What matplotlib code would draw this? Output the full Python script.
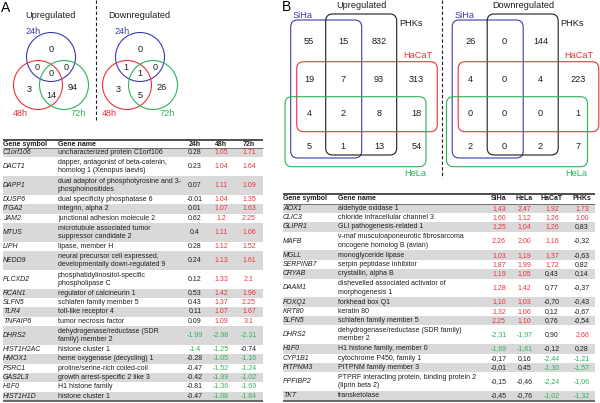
import matplotlib.pyplot as plt
from matplotlib.patches import Circle, FancyBboxPatch, Rectangle

plt.rcParams['font.family'] = ['Liberation Sans', 'DejaVu Sans']

BLUE = '#3b3ba8'
RED = '#f0303c'
GREEN = '#2db35a'
GREY = '#d9d9d9'
INK = '#1e1e1e'

# panel A venn: regions 24h only, 24&48, 24&72, all three, 48h only, 48&72, 72h only
sets_a = ['24h', '48h', '72h']
venn_a_up = [0, 0, 0, 0, 3, 14, 94]
venn_a_down = [0, 1, 0, 1, 3, 5, 26]

# panel B venn: rows = (top, HaCaT, HaCaT&HeLa, HeLa), cols = (SiHa, SiHa&PHKs, PHKs, none)
sets_b = ['SiHa', 'PHKs', 'HaCaT', 'HeLa']
venn_b_up = [[55, 15, 832, None],
             [19, 7, 93, 313],
             [4, 2, 8, 18],
             [5, 1, 13, 54]]
venn_b_down = [[26, 0, 144, None],
               [4, 0, 4, 223],
               [0, 0, 0, 1],
               [2, 0, 2, 7]]

# table A
cols_a = ['24h', '48h', '72h']
genes_a = ['C1orf106', 'DACT1', 'DAPP1', 'DUSP6', 'ITGA2', 'JAM2', 'MTUS', 'LIPH',
           'NEDD9', 'PLCXD2', 'RCAN1', 'SLFN5', 'TLR4', 'TNFAIP6', 'DHRS2',
           'HIST1H2AC', 'HMOX1', 'PSRC1', 'GAS2L3', 'H1F0', 'HIST1H1D']
names_a = ['uncharacterized protein C1orf106',
           'dapper, antagonist of beta-catenin,\nhomolog 1 (Xenopus laevis)',
           'dual adaptor of phosphotyrosine and 3-\nphosphoinositides',
           'dual specificity phosphatase 6',
           'integrin, alpha 2',
           'junctional adhesion molecule 2',
           'microtubule associated tumor\nsuppressor candidate 2',
           'lipase, member H',
           'neural precursor cell expressed,\ndevelopmentally down-regulated 9',
           'phosphatidylinositol-specific\nphospholipase C',
           'regulator of calcineurin 1',
           'schlafen family member 5',
           'toll-like receptor 4',
           'tumor necrosis factor',
           'dehydrogenase/reductase (SDR\nfamily) member 2',
           'histone cluster 1',
           'heme oxygenase (decycling) 1',
           'proline/serine-rich coiled-coil',
           'growth arrest-specific 2 like 3',
           'H1 histone family',
           'histone cluster 1']
a_24h = ['0.28', '0.23', '0.07', '-0.01', '0.01', '0.62', '0.4', '0.28', '0.24', '0.12',
         '0.53', '0.43', '0.11', '0.09', '-1.99', '-1.4', '-0.28', '-0.47', '-0.42',
         '-0.81', '-0.47']
a_48h = ['1.05', '1.04', '1.11', '1.04', '1.07', '1.2', '1.11', '1.12', '1.13', '1.33',
         '1.42', '1.37', '1.07', '1.09', '-2.98', '-1.25', '-1.05', '-1.52', '-1.39',
         '-1.36', '-1.08']
a_72h = ['1.71', '1.64', '1.09', '1.35', '1.63', '2.25', '1.06', '1.52', '1.61', '2.1',
         '1.96', '2.25', '1.67', '3.1', '-2.31', '-0.74', '-1.16', '-1.24', '-1.02',
         '-1.69', '-1.84']

# table B
cols_b = ['SiHa', 'HeLa', 'HaCaT', 'PHKs']
genes_b = ['AOX1', 'CLIC3', 'GLIPR1', 'MAFB', 'MGLL', 'SERPINB7', 'CRYAB', 'DAAM1',
           'FOXQ1', 'KRT80', 'SLFN5', 'DHRS2', 'H1F0', 'CYP1B1', 'PITPNM3', 'PPFIBP2', 'TKT']
names_b = ['aldehyde oxidase 1',
           'chloride intracellular channel 3',
           'GLI pathogenesis-related 1',
           'v-maf musculoaponeurotic fibrosarcoma\noncogene homolog B (avian)',
           'monoglyceride lipase',
           'serpin peptidase inhibitor',
           'crystallin, alpha B',
           'dishevelled associated activator of\nmorphogenesis 1',
           'forkhead box Q1',
           'keratin 80',
           'schlafen family member 5',
           'dehydrogenase/reductase (SDR family)\nmember 2',
           'H1 histone family, member 0',
           'cytochrome P450, family 1',
           'PITPNM family member 3',
           'PTPRF interacting protein, binding protein 2\n(liprin beta 2)',
           'transketolase']
b_siha = ['1,43', '1,60', '1,25', '2,26', '1,03', '1,87', '1,19', '1,28', '1,10', '1,32',
          '2,25', '-2,31', '-1,69', '-0,17', '-0,01', '-0,15', '-0,45']
b_hela = ['2,47', '1,12', '1,04', '2,00', '1,19', '1,99', '1,05', '1,42', '1,03', '1,06',
          '1,10', '-1,97', '-1,61', '0,16', '0,45', '-0,46', '-0,76']
b_hacat = ['1,92', '1,26', '1,26', '1,16', '1,37', '1,72', '0,43', '0,77', '-0,70', '0,12',
           '0,76', '0,90', '-0,12', '-2,44', '-1,30', '-2,24', '-1,02']
b_phks = ['1,73', '1,00', '0,83', '-0,32', '-0,63', '0,82', '0,14', '-0,37', '-0,43', '-0,67',
          '-0,54', '2,66', '0,28', '-1,21', '-1,57', '-1,06', '-1,32']

fig = plt.figure(figsize=(6, 4.03), dpi=100)
ax = fig.add_axes([0, 0, 1, 1])
ax.set_xlim(0, 600)
ax.set_ylim(403, 0)
ax.axis('off')

FS_T = 5.0   # table text
FS_V = 6.6   # venn text


def venn3(cx, counts, title):
    ax.text(cx - 1, 16, title, ha='center', va='center', fontsize=FS_V, color=INK)
    circ = [((cx, 57), BLUE), ((cx - 13, 85), RED), ((cx + 13, 85), GREEN)]
    for (xy, c) in circ:
        ax.add_patch(Circle(xy, 24.5, fill=False, ec=c, lw=0.8))
    pos = [(0, 50), (-14, 67), (15, 67), (0, 74), (-22, 89), (0, 95), (22, 88)]
    for (dx, y), n in zip(pos, counts):
        ax.text(cx + dx, y, str(n), ha='center', va='center', fontsize=FS_V, color=INK)
    lab = [(-18, 32, BLUE), (-31, 113, RED), (27, 113, GREEN)]
    for (dx, y, c), s in zip(lab, sets_a):
        ax.text(cx + dx, y, s, ha='center', va='center', fontsize=FS_V, color=c)


def venn4(dx, grid, title):
    ax.text(361.7 + dx, 5, title, ha='center', va='center', fontsize=FS_V, color=INK)
    boxes = [(290.7, 20, 361.7, 158, BLUE), (325.7, 14, 396.7, 155, INK),
             (296.7, 61.7, 437.3, 131.7, RED), (285, 96.7, 426, 166.7, GREEN)]
    for x0, y0, x1, y1, c in boxes:
        ax.add_patch(FancyBboxPatch((x0 + dx, y0), x1 - x0, y1 - y0,
                                    boxstyle='round,pad=0,rounding_size=7',
                                    fill=False, ec=c, lw=0.8))
    xs = [309, 343, 379, 416.5]
    ys = [41.7, 79, 114, 146.7]
    for row, y in zip(grid, ys):
        for n, x in zip(row, xs):
            if n is not None:
                ax.text(x + dx, y, str(n), ha='center', va='center', fontsize=FS_V, color=INK)
    lab = [(293, 15, BLUE), (399, 23, INK), (403, 56, RED), (404, 173, GREEN)]
    for (x, y, c), s in zip(lab, sets_b):
        ax.text(x + dx, y, s, ha='left', va='center', fontsize=FS_V, color=c)


def table(x0, x1, y_top, y_head, y_rows, y_end, sym_x, name_x, headers, col_x, genes, names, cols):
    nunits = sum(n.count('\n') + 1 for n in names)
    unit = (y_end - y_rows) / nunits
    ax.plot([x0, x1], [y_top, y_top], color=INK, lw=1.1, solid_capstyle='butt')
    ax.text(sym_x, y_head, 'Gene symbol', fontsize=FS_T, fontweight='bold', va='center', color=INK)
    ax.text(name_x, y_head, 'Gene name', fontsize=FS_T, fontweight='bold', va='center', color=INK)
    for h, cx in zip(headers, col_x):
        ax.text(cx, y_head, h, fontsize=FS_T, fontweight='bold', ha='center', va='center', color=INK)
    ax.plot([x0, x1], [y_rows, y_rows], color=INK, lw=0.4, solid_capstyle='butt')
    y = y_rows
    for i, (g, n) in enumerate(zip(genes, names)):
        h = unit * (n.count('\n') + 1)
        if i % 2 == 0:
            ax.add_patch(Rectangle((x0, y), x1 - x0, h, fc=GREY, ec='none'))
        yc = y + h / 2
        ax.text(sym_x, yc, g, fontsize=FS_T, style='italic', va='center', color=INK)
        ax.text(name_x, yc, n, fontsize=FS_T, va='center', linespacing=1.25, color=INK)
        for vals, cx in zip(cols, col_x):
            s = vals[i]
            v = float(s.replace(',', '.'))
            c = RED if v >= 1 else (GREEN if v <= -1 else INK)
            ax.text(cx, yc, s, fontsize=FS_T, ha='center', va='center', color=c)
        y += h
    ax.plot([x0, x1], [y, y], color='#444444', lw=1.1, solid_capstyle='butt')


# panel letters
ax.text(1, 8, 'A', fontsize=10, va='center', ha='left', color='black')
ax.text(282, 7, 'B', fontsize=10, va='center', ha='left', color='black')

# dashed separators
ax.plot([96, 96], [0, 121], color=INK, lw=0.8, ls=(0, (3, 2)))
ax.plot([441.7, 441.7], [0, 178], color=INK, lw=0.8, ls=(0, (3, 2)))

venn3(51, venn_a_up, 'Upregulated')
venn3(140, venn_a_down, 'Downregulated')
venn4(0, venn_b_up, 'Upregulated')
venn4(161.5, venn_b_down, 'Downregulated')

table(3, 263, 139.5, 144, 148, 401, 3, 58, cols_a, [195, 221, 249],
      genes_a, names_a, [a_24h, a_48h, a_72h])
table(283, 595, 194, 199, 203.5, 400.5, 283, 338, cols_b, [499, 524.5, 552, 582],
      genes_b, names_b, [b_siha, b_hela, b_hacat, b_phks])

fig.savefig('out.png', dpi=100)
